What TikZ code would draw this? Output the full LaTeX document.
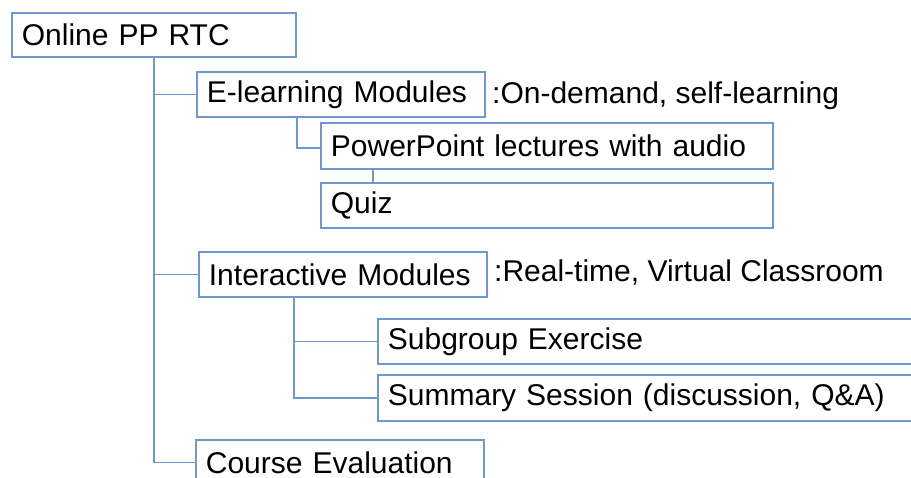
\documentclass[tikz,border=0pt]{standalone}
\usepackage{fontspec}
\setmainfont{Liberation Sans}
\usepackage{tikz}
\usetikzlibrary{positioning}
\definecolor{boxblue}{RGB}{112,152,206}

\begin{document}
\begin{tikzpicture}[
  x=1pt,y=-1pt,
  item/.style={draw=boxblue,line width=1.8pt,anchor=north west,
    align=left,inner xsep=10pt,inner ysep=0pt,
    font=\fontsize{30}{33}\selectfont},
  note/.style={anchor=west,inner sep=0pt,font=\fontsize{30}{33}\selectfont},
  link/.style={boxblue,line width=1.8pt}
]
\useasboundingbox (0,0) rectangle (911,477);
\clip (0,0) rectangle (911,477);
\node[item,text width=264pt,minimum height=44pt] (root) at (11,12) {Online PP RTC};
\node[item,text width=268pt,minimum height=45pt] (elearn) at (196,71) {E-learning Modules};
\node[note] (elearnnote) at (492,96) {:On-demand, self-learning};
\node[item,text width=432pt,minimum height=46pt] (ppt) at (320,122) {PowerPoint lectures with audio};
\node[item,text width=432pt,minimum height=45pt] (quiz) at (320,182) {Quiz};
\node[item,text width=268pt,minimum height=45pt] (inter) at (198,251) {Interactive Modules};
\node[note] (internote) at (494,273) {:Real-time, Virtual Classroom};
\node[item,text width=563pt,minimum height=45pt] (subgroup) at (377,318) {Subgroup Exercise};
\node[item,text width=563pt,minimum height=46pt] (summary) at (377,374) {Summary Session (discussion, Q\&A)};
\node[item,text width=268pt,minimum height=45pt] (course) at (195,439) {Course Evaluation};
% trunk and branches
\draw[link] (root.south) |- (course.west);
\draw[link] (root.south |- elearn.west) -- (elearn.west);
\draw[link] (root.south |- inter.west) -- (inter.west);
% e-learning children
\draw[link] ([xshift=101pt]elearn.south west) |- ([yshift=-2pt]ppt.west);
\draw[link] ([xshift=53pt]ppt.south west) -- ([xshift=53pt]quiz.north west);
% interactive children
\draw[link] ([xshift=96pt]inter.south west) |- (summary.west);
\draw[link] ([xshift=96pt]inter.south west |- subgroup.west) -- (subgroup.west);
\end{tikzpicture}
\end{document}
